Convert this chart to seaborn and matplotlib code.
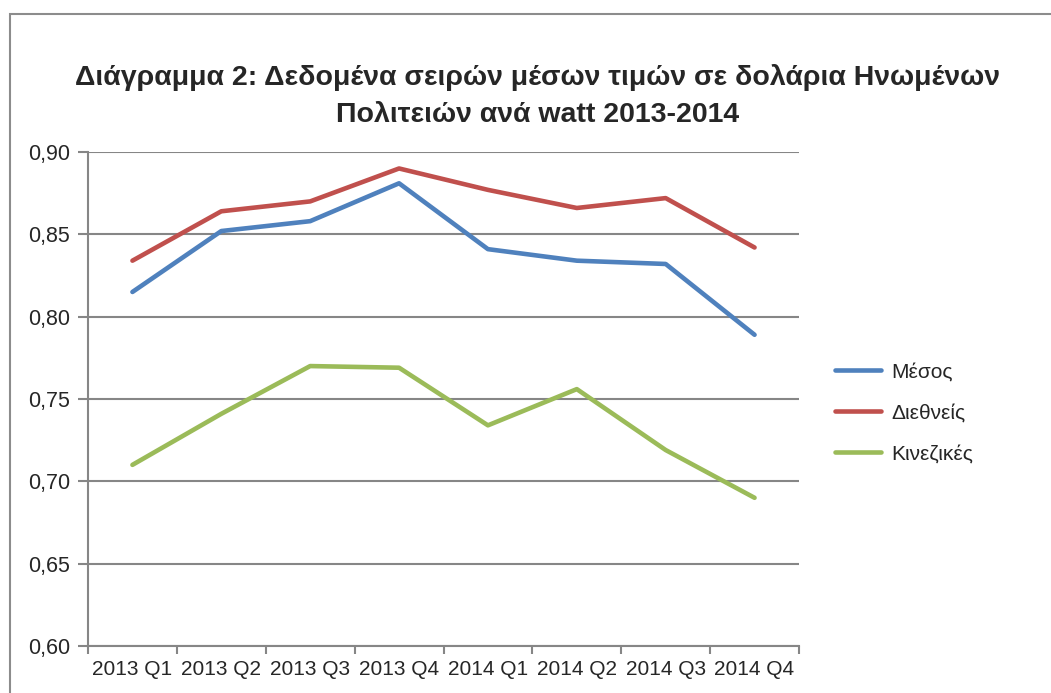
import matplotlib
matplotlib.use("Agg")
import matplotlib.pyplot as plt
import seaborn as sns
import pandas as pd
from matplotlib.patches import Rectangle
from matplotlib.lines import Line2D

quarters = ["2013 Q1", "2013 Q2", "2013 Q3", "2013 Q4",
            "2014 Q1", "2014 Q2", "2014 Q3", "2014 Q4"]
mesos = [0.815, 0.852, 0.858, 0.881, 0.841, 0.834, 0.832, 0.789]
diethneis = [0.834, 0.864, 0.870, 0.890, 0.877, 0.866, 0.872, 0.842]
kinezikes = [0.710, 0.741, 0.770, 0.769, 0.734, 0.756, 0.719, 0.690]
series_names = ["Μέσος", "Διεθνείς", "Κινεζικές"]
colors = ["#4F81BD", "#C0504D", "#9BBB59"]
yticks = [0.60, 0.65, 0.70, 0.75, 0.80, 0.85, 0.90]
title = "Διάγραμμα 2: Δεδομένα σειρών μέσων τιμών σε δολάρια Ηνωμένων\nΠολιτειών ανά watt 2013-2014"

df = pd.DataFrame({"quarter": quarters * 3,
                   "idx": list(range(len(quarters))) * 3,
                   "value": mesos + diethneis + kinezikes,
                   "series": [series_names[0]] * 8 + [series_names[1]] * 8 + [series_names[2]] * 8})

sns.set_theme(style="white")
plt.rcParams["font.family"] = ["Liberation Sans", "DejaVu Sans"]

fig = plt.figure(figsize=(10.51, 6.93), dpi=100)
ax = fig.add_axes([88 / 1051, 1 - 646 / 693, (799 - 88) / 1051, (646 - 152) / 693])

# outer chart frame
fig.patches.append(Rectangle((10 / 1051, -0.1), 1.2, 1 - 14 / 693 + 0.1,
                             transform=fig.transFigure, fill=False,
                             edgecolor="#8c8c8c", linewidth=1.5))

sns.lineplot(data=df, x="idx", y="value", hue="series", palette=colors,
             hue_order=series_names, linewidth=3.3, ax=ax, legend=False)

ax.set_xlim(-0.5, len(quarters) - 0.5)
ax.set_ylim(0.60, 0.90)
ax.set_yticks(yticks)
ax.set_yticklabels([f"{v:.2f}".replace(".", ",") for v in yticks], fontsize=15.5)
ax.set_xticks([i for i in range(len(quarters))])
ax.set_xticklabels(quarters, fontsize=15)
ax.set_xticks([i - 0.5 for i in range(len(quarters) + 1)], minor=True)
ax.tick_params(axis="x", which="major", length=0, pad=10)
ax.tick_params(axis="x", which="minor", length=6, width=1.5, color="#868686", direction="out", bottom=True)
ax.tick_params(axis="y", length=7, width=1.5, color="#868686", direction="out", left=True, pad=6)
ax.set_xlabel("")
ax.set_ylabel("")
ax.yaxis.grid(True, color="#868686", linewidth=1.5)
ax.set_axisbelow(True)
for s in ["top", "right"]:
    ax.spines[s].set_visible(False)
for s in ["left", "bottom"]:
    ax.spines[s].set_color("#868686")
    ax.spines[s].set_linewidth(1.5)

fig.text(537.5 / 1051, 1 - 96 / 693, title, ha="center", va="center", fontsize=20.5,
         fontweight="bold", linespacing=1.55)

# legend
handles = [Line2D([0], [0], color=c, linewidth=3.3) for c in colors]
leg = fig.legend(handles, series_names, loc="upper left",
                 bbox_to_anchor=(816 / 1051, 1 - 344 / 693), frameon=False,
                 fontsize=15, handlelength=2.2, labelspacing=1.05, handletextpad=0.5)

fig.savefig("out.png", dpi=100, facecolor="white")
